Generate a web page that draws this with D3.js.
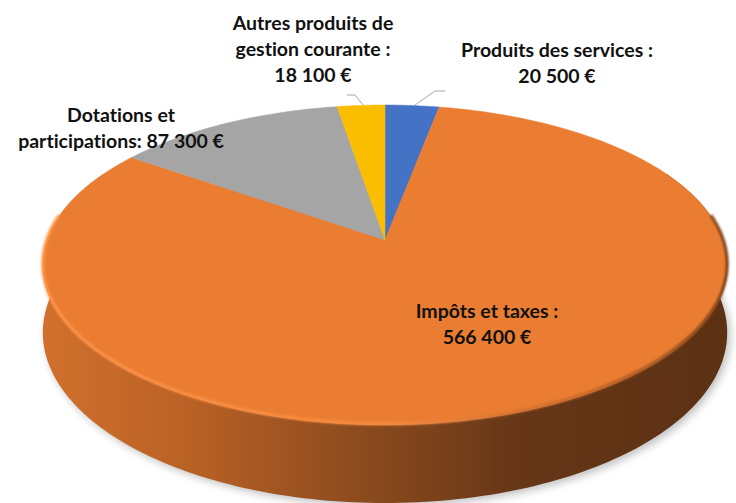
<!DOCTYPE html>
<html><head><meta charset="utf-8">
<script src="https://cdn.jsdelivr.net/npm/d3@7"></script>
<style>html,body{margin:0;padding:0;background:#fff;}svg{display:block;}text{font-variant-ligatures:none;}</style>
</head><body>
<script>
// ---- data ----
const categories = ["Produits des services", "Impôts et taxes", "Dotations et participations", "Autres produits de gestion courante"];
const values = [20500, 566400, 87300, 18100];
const labelLines = [
  ["Produits des services :", "{v}"],
  ["Impôts et taxes :", "{v}"],
  ["Dotations et", "participations: {v}"],
  ["Autres produits de", "gestion courante :", "{v}"]
];
// ---- style ----
const colors = ["#4472c4", "#ea7d31", "#a5a5a5", "#fbbd00"];
const W = 736, H = 503;
const cx = 385, cy = 240, Rx = 338, Ry = 156, a = 0.156, D = 66;
const labelPos = [[557, 57], [487, 318], [121, 122], [313, 30]];
const lineH = 26;

const fmt = v => d3.format(",")(v).replace(/,/g, " ") + " €";

function proj(t, h) {
  const X = Math.sin(t), Z = Math.cos(t), w = 1 + a * Z;
  return [cx + Rx * X / w, cy + (-Ry * Z + h * D) / w];
}

const svg = d3.select("body").append("svg").attr("width", W).attr("height", H);
const defs = svg.append("defs");
defs.append("filter").attr("id", "blur").attr("x", "-10%").attr("y", "-10%").attr("width", "120%").attr("height", "130%")
  .append("feGaussianBlur").attr("stdDeviation", 4);
defs.append("filter").attr("id", "blur1").append("feGaussianBlur").attr("stdDeviation", 1.2);
const wg = defs.append("linearGradient").attr("id", "wall").attr("gradientUnits", "userSpaceOnUse")
  .attr("x1", cx - Rx).attr("x2", cx + Rx).attr("y1", 0).attr("y2", 0);
[[0, "#d0702c"], [0.2, "#bb6226"], [0.45, "#8e4c1e"], [0.7, "#663617"], [1, "#5c3114"]]
  .forEach(([o, c]) => wg.append("stop").attr("offset", o).attr("stop-color", c));
const rg = defs.append("linearGradient").attr("id", "rim").attr("gradientUnits", "userSpaceOnUse")
  .attr("x1", cx - Rx).attr("x2", cx + Rx).attr("y1", 0).attr("y2", 0);
[[0, "#ff9448"], [0.5, "#f78c42"], [0.8, "#c2662a"], [1, "#7a4019"]]
  .forEach(([o, c]) => rg.append("stop").attr("offset", o).attr("stop-color", c));

const line = d3.line();
const samples = (t0, t1, h, n) => d3.range(n + 1).map(i => proj(t0 + (t1 - t0) * i / n, h));

// shadow
const full = samples(0, 2 * Math.PI, 1, 200);
svg.append("path").attr("d", line(full) + "Z").attr("fill", "#000").attr("opacity", 0.25)
  .attr("transform", "translate(3,3)").attr("filter", "url(#blur)");

// wall (front)
const t0 = Math.PI * 0.35, t1 = Math.PI * 1.65;
const wallPts = samples(t0, t1, 0, 200).concat(samples(t1, t0, 1, 200));
svg.append("path").attr("d", line(wallPts) + "Z").attr("fill", "url(#wall)");

// top face slices
const pie = d3.pie().sort(null).value(d => d)(values);
const g = svg.append("g");
pie.forEach((s, i) => {
  const n = Math.max(8, Math.ceil((s.endAngle - s.startAngle) * 60));
  const pts = [[cx, cy]].concat(samples(s.startAngle, s.endAngle, 0, n));
  g.append("path").attr("d", line(pts) + "Z").attr("fill", colors[i])
    .attr("stroke", colors[i]).attr("stroke-width", 0.5);
});

// rim highlight along front edge
svg.append("path").attr("d", line(samples(Math.PI * 0.45, Math.PI * 1.55, 0, 200)))
  .attr("fill", "none").attr("stroke", "url(#rim)").attr("stroke-width", 3)
  .attr("filter", "url(#blur1)").attr("transform", "translate(0,-1)");

// leader lines
const leaders = [
  { i: 0, pts: [[415, 105], [435, 91], [445, 91]] },
  { i: 3, pts: [[363, 105], [355, 95], [347, 95]] }
];
leaders.forEach(l => {
  svg.append("path").attr("d", line(l.pts)).attr("fill", "none")
    .attr("stroke", "#a6a6a6").attr("stroke-width", 1);
});

// labels
pie.forEach((s, i) => {
  const t = svg.append("text").attr("text-anchor", "middle")
    .attr("font-family", "Lato, 'Open Sans', sans-serif").attr("font-weight", "bold")
    .attr("font-size", 19.5).attr("fill", "#111");
  labelLines[i].forEach((ln, k) => {
    t.append("tspan").attr("x", labelPos[i][0]).attr("y", labelPos[i][1] + k * lineH)
      .text(ln.replace("{v}", fmt(values[i])));
  });
});
</script>
</body></html>
